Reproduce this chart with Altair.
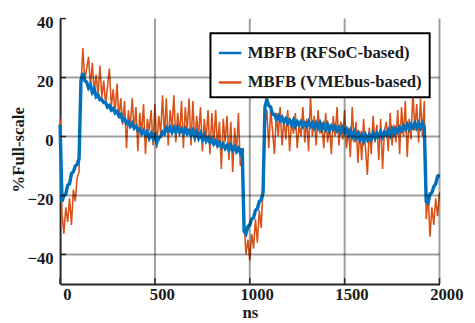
import altair as alt
import pandas as pd

# time axis (ns), sampled every 10 ns
T = list(range(0, 2001, 10))

RFSOC = [
    4, -22, -20, -19.5, -16.5, -16, -12.5, -12, -10, -9.5,
    -7.5, 19, 21.5, 19, 18.5, 16.5, 17.5, 15, 16, 13.5,
    14, 12.5, 12.5, 11.5, 11.5, 10, 10.5, 9, 9.5, 8,
    8.5, 7, 7.5, 5.5, 6, 4.5, 5, 3.5, 4.5, 3,
    3.5, 2, 2.5, 1, 2, 0.5, 1.5, -0.5, 1, -0.5,
    0.5, -2, -0.5, 0, 1.5, 1, 3, 2, 3, 1.5,
    3, 1.5, 3, 1.5, 2.5, 1, 2.5, 1, 2, 0.5,
    2, 0, 1.5, -0.5, 1, -1, 0.5, -1.5, -0.5, -2,
    -1, -2.5, -1.5, -3, -2, -3.5, -2.5, -4, -3, -4.5,
    -3, -4.5, -3.5, -5, -4, -5.5, -4, -32, -33, -30.5,
    -30, -28, -27.5, -25, -24.5, -22, -21.5, -19, 10, 12.5,
    10.5, 10, 7.5, 7.5, 6, 7, 5.5, 6.5, 5, 6,
    4.5, 5.5, 4, 5.5, 3.5, 5, 4, 5, 3.5, 4.5,
    3.5, 5, 3.5, 4.5, 3, 4.5, 3, 4.5, 2.5, 4,
    2.5, 4, 2, 3.5, 2.5, 3.5, 2, 3, 1.5, 3,
    1.5, 2.5, 0.5, 2, 0, 1.5, -0.5, 1, -1, 0.5,
    -1.5, 0.5, -1, 0.5, -1, 1, -0.5, 1, 0, 1.5,
    0, 1.5, 0.5, 2, 0.5, 2.5, 1, 2.5, 1.5, 3,
    2, 3.5, 2.5, 4, 2.5, 4, 3, 4.5, 3, 4.5,
    3, 4.5, 3, -22, -22.5, -19.5, -19, -17, -16, -13.5,
    -13,
]

VME = [
    6, -26, -33, -24, -29, -21, -30, -18, -22, -14,
    -12, 17, 30, 19, 23, 27, 17, 25, 15, 21,
    14, 24, 13, 19, 11, 17, 23, 10, 16, 8,
    18, 6, 13, 4, 12, -4, 9, 3, 13, 2,
    10, -5, 8, 1, 11, -6, 6, 2, 9, -3,
    11, -4, 7, 1, 14, 0, 13, -3, 9, 3,
    14, -2, 8, 0, 12, -4, 10, 2, 13, -3,
    12, -2, 7, 0, 10, -5, 6, -1, 9, -6,
    8, -3, 9, -4, 5, -11, 6, -2, 7, -8,
    5, -12, 3, -6, 8, -10, -8, -30, -40, -35,
    -42, -33, -38, -28, -36, -25, -31, -17, 4, 9,
    -4, 9, 2, -6, 8, 0, 10, -3, 6, -1,
    9, -5, 5, 1, 8, -4, 4, 0, 10, -2,
    6, -5, 14, 0, 7, -3, 9, 1, 5, -4,
    8, -2, 4, -6, 7, 0, 10, -3, 5, -1,
    9, -4, 3, -7, 10, -2, 5, -9, 2, -8,
    6, -4, -13, 3, -6, 7, -2, 4, -8, 6,
    -11, 2, 5, -5, 8, -3, 4, -2, 9, -6,
    10, 0, 12, -7, 6, -1, 15, 2, 11, -2,
    13, 0, 12, -28, -20, -34, -24, -30, -21, -27,
    -19,
]

SERIES = ["MBFB (RFSoC-based)", "MBFB (VMEbus-based)"]
COLORS = ["#0072BD", "#D95319"]
X_TICKS = [0, 500, 1000, 1500, 2000]
Y_TICKS = [-40, -20, 0, 20, 40]
X_GRID = [500, 1000, 1500, 2000]
Y_GRID = [-40, -20, 0, 20]

df_b = pd.DataFrame({"t": T, "v": RFSOC, "s": SERIES[0]})
df_o = pd.DataFrame({"t": T, "v": VME, "s": SERIES[1]})

FONT = "Liberation Serif"
TXT = "#1a1a1a"

xs = alt.Scale(domain=[0, 2000], nice=False, zero=False)
ys = alt.Scale(domain=[-50, 40], nice=False, zero=False)
cs = alt.Scale(domain=SERIES, range=COLORS)

xaxis = alt.Axis(
    values=X_TICKS, format="d", grid=False, ticks=False, domainColor="#262626",
    domainWidth=2, labelFont=FONT, labelFontSize=17, labelFontWeight="bold",
    labelColor=TXT, labelPadding=3, labelOffset=7, labelFlush=False,
    title="ns", titleFont=FONT, titleFontSize=17, titleFontWeight="bold",
    titleColor=TXT, titleY=34, titleBaseline="alphabetic",
)
yaxis = alt.Axis(
    values=Y_TICKS, format="d", grid=False, ticks=False, domainColor="#262626",
    domainWidth=2, labelFont=FONT, labelFontSize=17, labelFontWeight="bold",
    labelColor=TXT, labelPadding=7, labelOffset=4,
    title="%Full-scale", titleFont=FONT, titleFontSize=17, titleFontWeight="bold",
    titleColor=TXT, titleX=-42, titleY=133, titleBaseline="middle", titleAngle=270,
)

legend = alt.Legend(
    title=None, orient="none", legendX=153, legendY=15, direction="vertical",
    symbolType="stroke", symbolSize=529, symbolStrokeWidth=2.5,
    labelFont=FONT, labelFontSize=17, labelFontWeight="bold", labelColor=TXT,
    labelLimit=400, labelOffset=5, padding=7, rowPadding=9,
    strokeColor="black", fillColor="white",
)

X = alt.X("t:Q", scale=xs, axis=xaxis)
Y = alt.Y("v:Q", scale=ys, axis=yaxis)

orange = alt.Chart(df_o).mark_line(strokeWidth=1.6).encode(
    x=X, y=Y, color=alt.Color("s:N", scale=cs, legend=legend)
)
blue = alt.Chart(df_b).mark_line(strokeWidth=3.5).encode(
    x=X, y=Y, color=alt.Color("s:N", scale=cs, legend=legend)
)

xgrid = alt.Chart(pd.DataFrame({"t": X_GRID})).mark_rule(
    color="black", opacity=0.38, strokeWidth=2
).encode(x=X)
ygrid = alt.Chart(pd.DataFrame({"v": Y_GRID})).mark_rule(
    color="black", opacity=0.38, strokeWidth=2
).encode(y=Y)

yticks = alt.Chart(pd.DataFrame({"v": Y_TICKS})).mark_rule(
    color="#262626", strokeWidth=1.5
).encode(y=Y, x=alt.value(0), x2=alt.value(6))
xticks = alt.Chart(pd.DataFrame({"t": X_TICKS})).mark_rule(
    color="#262626", strokeWidth=1.5
).encode(x=X, y=alt.value(270), y2=alt.value(264))

chart = alt.layer(orange, blue, xgrid, ygrid, yticks, xticks).properties(
    width=386, height=270,
    padding={"left": 53, "top": 8, "right": 28, "bottom": 38},
    autosize=alt.AutoSizeParams(type="none"),
).configure_view(stroke="transparent").configure_legend(strokeWidth=2)

chart.save("out.html", embed_options={"renderer": "svg", "actions": False})
